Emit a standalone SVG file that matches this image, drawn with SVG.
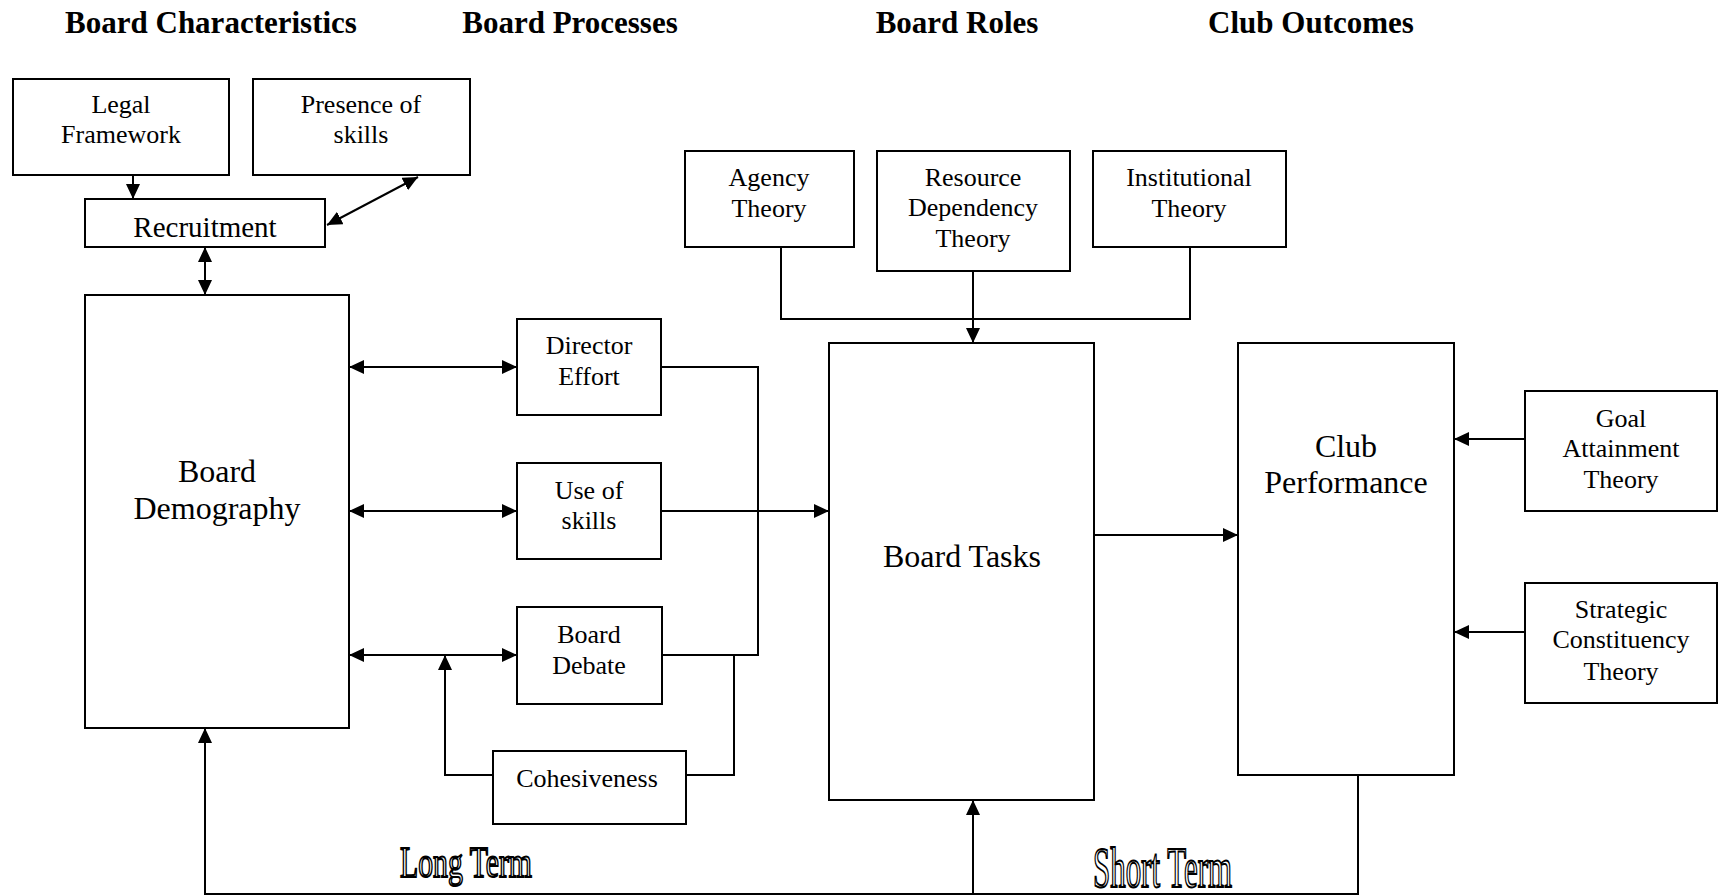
<svg xmlns="http://www.w3.org/2000/svg" width="1724" height="896" viewBox="0 0 1724 896">
  <style>
    .box { fill: #fff; stroke: #000; stroke-width: 2; }
    .t { font-family: "Liberation Serif", "Times New Roman", serif; fill: #000; text-anchor: middle; }
    .s26 { font-size: 26px; }
    .s29 { font-size: 29px; }
    .s32 { font-size: 32px; }
    .head { font-family: "Liberation Serif", "Times New Roman", serif; font-weight: bold; font-size: 31px; text-anchor: middle; fill: #000; }
    .term { font-family: "Liberation Serif", "Times New Roman", serif; fill: #fff; stroke: #000; stroke-width: 2; }
    .conn { fill: none; stroke: #000; stroke-width: 2; }
  </style>
  <defs>
    <marker id="ah" markerUnits="userSpaceOnUse" markerWidth="15" markerHeight="14" refX="15" refY="7" orient="auto-start-reverse" viewBox="0 0 15 14">
      <path d="M0,0 L15,7 L0,14 Z" fill="#000"/>
    </marker>
  </defs>

  <rect width="1724" height="896" fill="#fff"/>

  <!-- column headings -->
  <g id="headings">
    <text class="head" x="211" y="33">Board Characteristics</text>
    <text class="head" x="570" y="33">Board Processes</text>
    <text class="head" x="957" y="33">Board Roles</text>
    <text class="head" x="1311" y="33">Club Outcomes</text>
  </g>

  <!-- connectors -->
  <g id="connectors" class="conn">
    <path d="M133,175 V199" marker-end="url(#ah)"/>
    <path d="M418,177 L327,225" marker-start="url(#ah)" marker-end="url(#ah)"/>
    <path d="M205,247 V295" marker-start="url(#ah)" marker-end="url(#ah)"/>
    <path d="M349,367 H517" marker-start="url(#ah)" marker-end="url(#ah)"/>
    <path d="M349,511 H517" marker-start="url(#ah)" marker-end="url(#ah)"/>
    <path d="M349,655 H517" marker-start="url(#ah)" marker-end="url(#ah)"/>
    <path d="M493,775 H445 V655" marker-end="url(#ah)"/>
    <path d="M661,367 H758 V655 H662"/>
    <path d="M686,775 H734 V655"/>
    <path d="M661,511 H829" marker-end="url(#ah)"/>
    <path d="M781,247 V319 H1190 V247"/>
    <path d="M973,271 V343" marker-end="url(#ah)"/>
    <path d="M1094,535 H1238" marker-end="url(#ah)"/>
    <path d="M1525,439 H1454" marker-end="url(#ah)"/>
    <path d="M1525,632 H1454" marker-end="url(#ah)"/>
    <path d="M1358,775 V894 H205 V728" marker-end="url(#ah)"/>
    <path d="M973,894 V800" marker-end="url(#ah)"/>
  </g>

  <g id="legal-framework">
    <rect class="box" x="13" y="79" width="216" height="96"/>
    <text class="t s26" x="121" y="113">Legal</text>
    <text class="t s26" x="121" y="143">Framework</text>
  </g>
  <g id="presence-of-skills">
    <rect class="box" x="253" y="79" width="217" height="96"/>
    <text class="t s26" x="361" y="113">Presence of</text>
    <text class="t s26" x="361" y="143">skills</text>
  </g>
  <g id="recruitment">
    <rect class="box" x="85" y="199" width="240" height="48"/>
    <text class="t s29" x="205" y="237">Recruitment</text>
  </g>
  <g id="board-demography">
    <rect class="box" x="85" y="295" width="264" height="433"/>
    <text class="t s32" x="217" y="482">Board</text>
    <text class="t s32" x="217" y="519">Demography</text>
  </g>
  <g id="director-effort">
    <rect class="box" x="517" y="319" width="144" height="96"/>
    <text class="t s26" x="589" y="354">Director</text>
    <text class="t s26" x="589" y="385">Effort</text>
  </g>
  <g id="use-of-skills">
    <rect class="box" x="517" y="463" width="144" height="96"/>
    <text class="t s26" x="589" y="499">Use of</text>
    <text class="t s26" x="589" y="529">skills</text>
  </g>
  <g id="board-debate">
    <rect class="box" x="517" y="607" width="145" height="97"/>
    <text class="t s26" x="589" y="643">Board</text>
    <text class="t s26" x="589" y="674">Debate</text>
  </g>
  <g id="cohesiveness">
    <rect class="box" x="493" y="751" width="193" height="73"/>
    <text class="t s26" x="587" y="787">Cohesiveness</text>
  </g>
  <g id="agency-theory">
    <rect class="box" x="685" y="151" width="169" height="96"/>
    <text class="t s26" x="769" y="186">Agency</text>
    <text class="t s26" x="769" y="217">Theory</text>
  </g>
  <g id="resource-dependency-theory">
    <rect class="box" x="877" y="151" width="193" height="120"/>
    <text class="t s26" x="973" y="186">Resource</text>
    <text class="t s26" x="973" y="216">Dependency</text>
    <text class="t s26" x="973" y="247">Theory</text>
  </g>
  <g id="institutional-theory">
    <rect class="box" x="1093" y="151" width="193" height="96"/>
    <text class="t s26" x="1189" y="186">Institutional</text>
    <text class="t s26" x="1189" y="217">Theory</text>
  </g>
  <g id="board-tasks">
    <rect class="box" x="829" y="343" width="265" height="457"/>
    <text class="t s32" x="962" y="567">Board Tasks</text>
  </g>
  <g id="club-performance">
    <rect class="box" x="1238" y="343" width="216" height="432"/>
    <text class="t s32" x="1346" y="457">Club</text>
    <text class="t s32" x="1346" y="493">Performance</text>
  </g>
  <g id="goal-attainment-theory">
    <rect class="box" x="1525" y="391" width="192" height="120"/>
    <text class="t s26" x="1621" y="427">Goal</text>
    <text class="t s26" x="1621" y="457">Attainment</text>
    <text class="t s26" x="1621" y="488">Theory</text>
  </g>
  <g id="strategic-constituency-theory">
    <rect class="box" x="1525" y="583" width="192" height="120"/>
    <text class="t s26" x="1621" y="618">Strategic</text>
    <text class="t s26" x="1621" y="648">Constituency</text>
    <text class="t s26" x="1621" y="680">Theory</text>
  </g>

  <!-- feedback horizon labels -->
  <g id="term-labels">
    <text class="term" x="400" y="877" font-size="45" textLength="132" lengthAdjust="spacingAndGlyphs">Long Term</text>
    <text class="term" x="1093" y="887" font-size="56" textLength="139" lengthAdjust="spacingAndGlyphs">Short Term</text>
  </g>
</svg>
